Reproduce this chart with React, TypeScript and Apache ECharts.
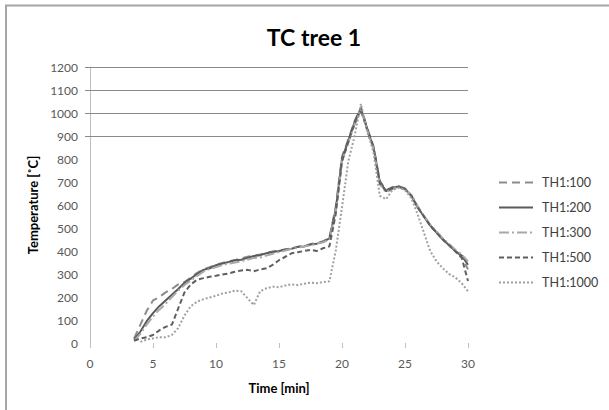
import React, { useEffect, useRef } from "react";
import * as echarts from "echarts";

const times = [
  3.5, 4, 4.5, 5, 5.5, 6, 6.5, 7, 7.5, 8, 8.5, 9, 9.5, 10, 10.5, 11, 11.5, 12, 12.5, 13,
  13.5, 14, 14.5, 15, 15.5, 16, 16.5, 17, 17.5, 18, 18.5, 19, 19.5, 20, 20.5, 21, 21.5, 22,
  22.5, 23, 23.5, 24, 24.5, 25, 25.5, 26, 26.5, 27, 27.5, 28, 28.5, 29, 29.5, 30,
];

const th100 = [
  20, 80, 140, 185, 200, 220, 235, 255, 265, 285, 305, 320, 330, 340, 348, 355, 360, 368, 375, 380,
  385, 392, 398, 402, 408, 412, 418, 422, 430, 435, 442, 458, 590, 810, 885, 965, 1025, 935,
  855, 705, 665, 678, 682, 672, 642, 592, 552, 512, 482, 452, 428, 400, 375, 320,
];
const th200 = [
  15, 50, 95, 130, 160, 185, 210, 235, 262, 280, 300, 318, 325, 338, 345, 352, 360, 362, 370, 378,
  382, 390, 396, 400, 405, 410, 418, 420, 428, 432, 440, 455, 580, 800, 880, 960, 1020, 930,
  850, 700, 660, 675, 680, 670, 640, 590, 550, 510, 480, 450, 425, 400, 380, 340,
];
const th300 = [
  10, 40, 80, 115, 145, 170, 200, 228, 252, 272, 292, 310, 322, 330, 338, 345, 350, 355, 362, 370,
  372, 380, 388, 395, 402, 410, 415, 420, 425, 432, 438, 450, 570, 790, 870, 950, 1010, 925,
  845, 690, 655, 670, 678, 668, 645, 595, 555, 515, 485, 455, 430, 405, 385, 355,
];
const th500 = [
  10, 20, 25, 35, 55, 70, 80, 150, 220, 255, 275, 282, 288, 292, 298, 302, 310, 315, 318, 312,
  320, 325, 340, 360, 375, 390, 395, 400, 405, 400, 412, 420, 560, 790, 875, 955, 1015, 930,
  850, 695, 660, 672, 680, 670, 640, 590, 550, 510, 480, 450, 425, 398, 370, 270,
];
const th1000 = [
  null, 5, 15, 20, 25, 25, 35, 65, 120, 160, 180, 190, 198, 205, 215, 220, 228, 225, 195, 165,
  225, 238, 245, 242, 250, 255, 252, 258, 262, 260, 265, 268, 400, 590, 790, 900, 1040, 920,
  830, 640, 625, 665, 675, 665, 630, 560, 480, 400, 355, 325, 300, 285, 260, 225,
];

const seriesNames = ["TH1:100", "TH1:200", "TH1:300", "TH1:500", "TH1:1000"];
const seriesValues = [th100, th200, th300, th500, th1000];
const seriesColors = ["#8c8c8c", "#5a5a5a", "#a8a8a8", "#5f5f5f", "#a0a0a0"];
const seriesDash: (number[] | string)[] = [[8, 5], "solid", [10, 3, 2, 3], [5, 3], [2, 2]];

const gridValues = [900, 1000, 1100, 1200];

const FONT = "Lato";

export default function App() {
  const ref = useRef<HTMLDivElement>(null);
  useEffect(() => {
    if (!ref.current) return;
    const chart = echarts.init(ref.current, null, { renderer: "svg" });
    const series: any[] = seriesNames.map((name, i) => ({
      name,
      type: "line",
      symbol: "none",
      legendIcon: "none",
      data: times
        .map((t, j) => [t, seriesValues[i][j]])
        .filter((p) => p[1] !== null),
      lineStyle: { color: seriesColors[i], width: 2, type: seriesDash[i] },
      itemStyle: { color: seriesColors[i] },
      z: 3,
    }));
    series[0].markLine = {
      silent: true,
      symbol: "none",
      label: { show: false },
      lineStyle: { color: "#8a8a8a", width: 1, type: "solid" },
      z: 1,
      data: gridValues.map((v) => ({ yAxis: v })),
    };
    chart.setOption({
      animation: false,
      backgroundColor: "#ffffff",
      title: {
        text: "TC tree 1",
        left: 309,
        top: 20,
        textAlign: "center",
        textStyle: { fontFamily: FONT, fontSize: 23, fontWeight: "bold", color: "#000" },
      },
      grid: { left: 90, right: 141, top: 67, bottom: 67 },
      legend: {
        orient: "vertical",
        left: 493,
        top: 171,
        itemWidth: 34,
        itemHeight: 14,
        itemGap: 12,
        itemStyle: { opacity: 0 },
        textStyle: { fontFamily: FONT, fontSize: 12.5, color: "#404040", padding: [0, 0, 0, 4] },
        data: seriesNames,
      },
      xAxis: {
        type: "value",
        min: 0,
        max: 30,
        interval: 5,
        name: "Time [min]",
        nameLocation: "middle",
        nameGap: 38,
        nameTextStyle: { fontFamily: FONT, fontSize: 13, fontWeight: "bold", color: "#000" },
        axisLine: { show: false },
        axisTick: { show: true, length: 5, lineStyle: { color: "#bfbfbf" } },
        axisLabel: { fontFamily: FONT, fontSize: 12, color: "#595959", margin: 14 },
        splitLine: { show: false },
      },
      yAxis: {
        type: "value",
        min: 0,
        max: 1200,
        interval: 100,
        name: "Temperature [˚C]",
        nameLocation: "middle",
        nameGap: 50,
        nameTextStyle: { fontFamily: FONT, fontSize: 13, fontWeight: "bold", color: "#000" },
        axisLine: { show: true, lineStyle: { color: "#bfbfbf", width: 1 } },
        axisTick: { show: true, length: 5, customValues: gridValues, lineStyle: { color: "#8a8a8a" } },
        axisLabel: {
          fontFamily: FONT,
          fontSize: 12,
          color: "#595959",
          margin: 12,
          formatter: (v: number) => String(v),
        },
        splitLine: { show: false },
      },
      graphic: [
        { type: "line", shape: { x1: 5, y1: 5.5, x2: 609, y2: 5.5 }, style: { stroke: "#a6a6a6", lineWidth: 2 } },
        { type: "line", shape: { x1: 6, y1: 5, x2: 6, y2: 410 }, style: { stroke: "#a6a6a6", lineWidth: 2 } },
      ],
      series,
    });
    return () => chart.dispose();
  }, []);
  return (
    <div
      ref={ref}
      style={{ position: "fixed", left: 0, top: 0, width: 609, height: 410 }}
    />
  );
}
